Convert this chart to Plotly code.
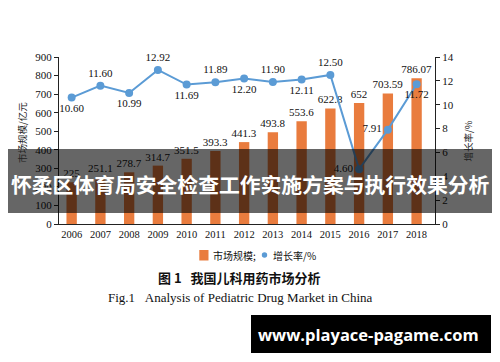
import plotly.graph_objects as go

years = ["2006", "2007", "2008", "2009", "2010", "2011", "2012",
         "2013", "2014", "2015", "2016", "2017", "2018"]
market_size = [225, 251.1, 278.7, 314.7, 351.5, 393.3, 441.3,
               493.8, 553.6, 622.8, 652, 703.59, 786.07]
growth_rate = [10.60, 11.60, 10.99, 12.92, 11.69, 11.89, 12.20,
               11.90, 12.11, 12.50, 4.60, 7.91, 11.72]
growth_label_pos = ["bottom center", "top center", "bottom center", "top center",
                    "bottom center", "top center", "bottom center", "top center",
                    "bottom center", "top center", "middle left", "middle left",
                    "bottom center"]

ORANGE = "#E97C3E"
BLUE = "#5B9BD5"
SERIF = "Liberation Serif, Times New Roman, serif"
CJK = "Noto Sans CJK SC, sans-serif"

# plot-area geometry (px) used for paper-coordinate placement of decorations
L, R, T, B = 59, 65, 57, 138
W, H = 500, 362
PW, PH = W - L - R, H - T - B


def px(x):
    return (x - L) / PW


def py(y):
    return (H - B - y) / PH


fig = go.Figure()
fig.add_trace(go.Bar(
    x=years, y=market_size, name="市场规模;",
    marker=dict(color=ORANGE, line=dict(width=0)),
    width=0.36,
    text=[str(v) for v in market_size], textposition="outside",
    constraintext="none",
    textfont=dict(family=SERIF, size=11, color="#111"),
    cliponaxis=False, yaxis="y", showlegend=False,
))
fig.add_trace(go.Scatter(
    x=years, y=growth_rate, name="增长率/%",
    mode="lines+markers+text",
    line=dict(color=BLUE, width=2),
    marker=dict(color=BLUE, size=8),
    text=[f"{v:.2f}" for v in growth_rate], textposition=growth_label_pos,
    textfont=dict(family=SERIF, size=11, color="#111"),
    cliponaxis=False, yaxis="y2", showlegend=False,
))

axis_common = dict(showgrid=False, zeroline=False, showline=True,
                   linecolor="#222", linewidth=1, ticks="outside", ticklen=4,
                   tickcolor="#222", tickfont=dict(family=SERIF, size=11, color="#111"))

fig.update_layout(
    width=W, height=H,
    margin=dict(l=L, r=R, t=T, b=B),
    paper_bgcolor="white", plot_bgcolor="white",
    font=dict(family=SERIF, size=11, color="#111"),
    showlegend=False,
    xaxis=dict(
        type="category", range=[-0.44, 12.64],
        showline=True, linecolor="#222", linewidth=1,
        ticks="", showgrid=False,
        tickfont=dict(family=SERIF, size=10.5, color="#111"),
    ),
    yaxis=dict(range=[0, 900], dtick=100, **axis_common),
    yaxis2=dict(range=[0, 14], dtick=2, overlaying="y", side="right", **axis_common),
    shapes=[
        # legend symbols
        dict(type="rect", xref="paper", yref="paper",
             x0=px(199.3), x1=px(208.5), y0=py(260.5), y1=py(250),
             fillcolor=ORANGE, line=dict(width=0)),
        dict(type="circle", xref="paper", yref="paper",
             x0=px(261.8), x1=px(267.2), y0=py(257.7), y1=py(252.3),
             fillcolor=BLUE, line=dict(width=0)),
        # banner
        dict(type="rect", xref="paper", yref="paper",
             x0=px(8), x1=px(492), y0=py(213), y1=py(149),
             fillcolor="rgba(0,0,0,0.6)", line=dict(width=0), layer="above"),
        # watermark box
        dict(type="rect", xref="paper", yref="paper",
             x0=px(251), x1=px(491), y0=py(353), y1=py(315),
             fillcolor="black", line=dict(width=0), layer="above"),
    ],
    annotations=[
        dict(text="市场规模/亿元", xref="paper", yref="paper",
             x=px(22), y=py(133), textangle=-90,
             xanchor="center", yanchor="middle", showarrow=False,
             font=dict(family=CJK, size=9.5, color="#222")),
        dict(text="增长率/%", xref="paper", yref="paper",
             x=px(467.5), y=py(141), textangle=-90,
             xanchor="center", yanchor="middle", showarrow=False,
             font=dict(family=CJK, size=9.5, color="#222")),
        dict(text="市场规模;", xref="paper", yref="paper",
             x=px(211), y=py(255.5), xanchor="left", yanchor="middle",
             showarrow=False, font=dict(family=CJK, size=10, color="#111")),
        dict(text="增长率/%", xref="paper", yref="paper",
             x=px(271), y=py(255.5), xanchor="left", yanchor="middle",
             showarrow=False, font=dict(family=CJK, size=10, color="#111")),
        dict(text="怀柔区体育局安全检查工作实施方案与执行效果分析",
             xref="paper", yref="paper", x=px(250), y=py(184),
             xanchor="center", yanchor="middle", showarrow=False,
             font=dict(family=CJK, size=20.8, color="white", weight="bold")),
        dict(text="图 1\u00a0\u00a0\u00a0我国儿科用药市场分析",
             xref="paper", yref="paper", x=px(239), y=py(277),
             xanchor="center", yanchor="middle", showarrow=False,
             font=dict(family=CJK, size=13, color="#111", weight="bold")),
        dict(text="Fig.1\u00a0\u00a0\u00a0Analysis of Pediatric Drug Market in China",
             xref="paper", yref="paper", x=px(240), y=py(297),
             xanchor="center", yanchor="middle", showarrow=False,
             font=dict(family=SERIF, size=13, color="#111")),
        dict(text="www.playace-pagame.com",
             xref="paper", yref="paper", x=px(368), y=py(334),
             xanchor="center", yanchor="middle", showarrow=False,
             font=dict(family="Open Sans, DejaVu Sans, sans-serif", size=16.5,
                       color="white", weight="bold")),
    ],
)

fig.write_html("out.html", config={"displayModeBar": False},
               post_script="document.body.style.margin='0';")
